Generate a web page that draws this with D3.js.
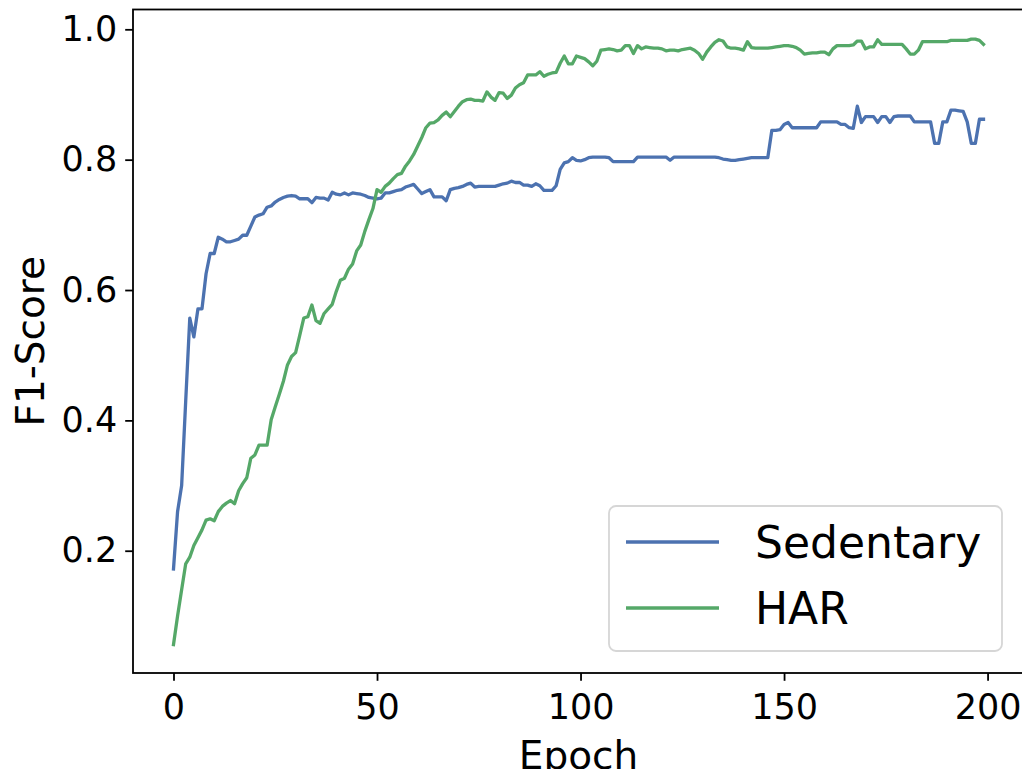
<!DOCTYPE html>
<html>
<head>
<meta charset="utf-8">
<script src="https://cdn.jsdelivr.net/npm/d3@7"></script>
<style>
  body { margin: 0; background: #fff; }
  text { font-family: "DejaVu Sans", sans-serif; fill: #000; }
</style>
</head>
<body>
<div class="chart"></div>
<script>
// epochs 0..199
var epochs = d3.range(0, 200);

var sedentary = [
  0.172, 0.26, 0.30, 0.43, 0.557, 0.528, 0.571, 0.571, 0.625, 0.656,
  0.656, 0.681, 0.678, 0.674, 0.674, 0.676, 0.678, 0.684, 0.684, 0.698,
  0.712, 0.715, 0.717, 0.727, 0.729, 0.735, 0.739, 0.742, 0.744, 0.745,
  0.744, 0.740, 0.740, 0.740, 0.734, 0.742, 0.741, 0.741, 0.738, 0.750,
  0.747, 0.746, 0.749, 0.746, 0.749, 0.748, 0.747, 0.745, 0.742, 0.741,
  0.740, 0.741, 0.749, 0.749, 0.751, 0.753, 0.754, 0.758, 0.760, 0.762,
  0.755, 0.748, 0.751, 0.754, 0.743, 0.743, 0.743, 0.737, 0.754, 0.756,
  0.757, 0.759, 0.762, 0.764, 0.758, 0.759, 0.759, 0.759, 0.759, 0.759,
  0.761, 0.763, 0.764, 0.767, 0.765, 0.765, 0.761, 0.761, 0.759, 0.763,
  0.760, 0.753, 0.753, 0.753, 0.760, 0.785, 0.795, 0.797, 0.803, 0.799,
  0.798, 0.800, 0.803, 0.804, 0.804, 0.804, 0.804, 0.803, 0.797, 0.797,
  0.797, 0.797, 0.797, 0.797, 0.804, 0.804, 0.804, 0.804, 0.804, 0.804,
  0.804, 0.804, 0.799, 0.804, 0.804, 0.804, 0.804, 0.804, 0.804, 0.804,
  0.804, 0.804, 0.804, 0.804, 0.803, 0.801, 0.800, 0.799, 0.799, 0.800,
  0.801, 0.802, 0.803, 0.803, 0.803, 0.803, 0.803, 0.845, 0.845, 0.846,
  0.854, 0.857, 0.849, 0.849, 0.849, 0.849, 0.849, 0.849, 0.849, 0.858,
  0.858, 0.858, 0.858, 0.858, 0.854, 0.854, 0.849, 0.848, 0.882, 0.857,
  0.866, 0.866, 0.866, 0.857, 0.866, 0.866, 0.857, 0.866, 0.867, 0.867,
  0.867, 0.867, 0.858, 0.858, 0.858, 0.858, 0.858, 0.825, 0.825, 0.858,
  0.858, 0.876, 0.876, 0.875, 0.874, 0.858, 0.825, 0.825, 0.862, 0.862
];

var har = [
  0.056, 0.100, 0.140, 0.180, 0.190, 0.208, 0.220, 0.232, 0.247, 0.249,
  0.246, 0.260, 0.268, 0.273, 0.277, 0.272, 0.292, 0.303, 0.312, 0.342,
  0.347, 0.362, 0.362, 0.362, 0.401, 0.421, 0.440, 0.460, 0.485, 0.498,
  0.504, 0.530, 0.557, 0.559, 0.577, 0.553, 0.549, 0.564, 0.571, 0.578,
  0.598, 0.615, 0.618, 0.632, 0.640, 0.660, 0.669, 0.690, 0.708, 0.725,
  0.754, 0.750, 0.759, 0.764, 0.771, 0.777, 0.779, 0.790, 0.798, 0.808,
  0.821, 0.834, 0.849, 0.856, 0.857, 0.861, 0.868, 0.873, 0.866, 0.874,
  0.882, 0.889, 0.892, 0.893, 0.891, 0.891, 0.890, 0.904, 0.896, 0.891,
  0.903, 0.902, 0.894, 0.899, 0.910, 0.915, 0.918, 0.930, 0.930, 0.930,
  0.935, 0.928, 0.931, 0.933, 0.934, 0.948, 0.959, 0.947, 0.947, 0.959,
  0.957, 0.955, 0.950, 0.944, 0.951, 0.968, 0.969, 0.970, 0.969, 0.967,
  0.968, 0.975, 0.975, 0.963, 0.975, 0.970, 0.973, 0.972, 0.971, 0.971,
  0.970, 0.967, 0.968, 0.968, 0.967, 0.969, 0.970, 0.971, 0.968, 0.963,
  0.954, 0.965, 0.973, 0.980, 0.984, 0.982, 0.973, 0.971, 0.971, 0.970,
  0.968, 0.981, 0.972, 0.971, 0.971, 0.971, 0.971, 0.972, 0.973, 0.974,
  0.975, 0.975, 0.974, 0.972, 0.968, 0.962, 0.963, 0.964, 0.964, 0.965,
  0.965, 0.961, 0.970, 0.975, 0.975, 0.975, 0.975, 0.976, 0.982, 0.982,
  0.970, 0.973, 0.973, 0.984, 0.977, 0.977, 0.977, 0.977, 0.977, 0.977,
  0.970, 0.962, 0.962, 0.968, 0.981, 0.981, 0.981, 0.981, 0.981, 0.981,
  0.981, 0.983, 0.983, 0.983, 0.983, 0.983, 0.985, 0.985, 0.983, 0.977
];

var seriesNames = ["Sedentary", "HAR"];
var seriesColors = ["#4C72B0", "#55A868"];
var xTicks = [0, 50, 100, 150, 200];
var yTicks = [0.2, 0.4, 0.6, 0.8, 1.0];

var svgWidth = 1022;
var svgHeight = 769;

var margin = { top: 9.5, right: -2, bottom: 96, left: 133 };
var width = svgWidth - margin.left - margin.right;
var height = svgHeight - margin.top - margin.bottom;

var svg = d3.select(".chart")
  .append("svg")
  .attr("width", svgWidth)
  .attr("height", svgHeight);

var chartGroup = svg.append("g")
  .attr("transform", `translate(${margin.left}, ${margin.top})`);

// scales, with matplotlib style 5% margins
var xScale = d3.scaleLinear()
  .domain([-9.95, 208.95])
  .range([0, width]);

var yScale = d3.scaleLinear()
  .domain([0.0124, 1.0304])
  .range([height, 0]);

var tickLen = 7.8;

var bottomAxis = d3.axisBottom(xScale)
  .tickValues(xTicks)
  .tickSize(tickLen)
  .tickPadding(13)
  .tickFormat(d3.format("d"));

var leftAxis = d3.axisLeft(yScale)
  .tickValues(yTicks)
  .tickSize(tickLen)
  .tickPadding(8)
  .tickFormat(d3.format(".1f"));

var xAxisG = chartGroup.append("g")
  .attr("transform", `translate(0, ${height})`)
  .call(bottomAxis);

var yAxisG = chartGroup.append("g")
  .call(leftAxis);

[xAxisG, yAxisG].forEach(function(g) {
  g.select(".domain").remove();
  g.selectAll(".tick line").attr("stroke", "#000").attr("stroke-width", 1.8);
  g.selectAll(".tick text").style("font-size", "35px").attr("fill", "#000");
});

// lines
var lineGen = d3.line()
  .x((d, i) => xScale(epochs[i]))
  .y(d => yScale(d));

[sedentary, har].forEach(function(values, i) {
  chartGroup.append("path")
    .datum(values)
    .attr("fill", "none")
    .attr("stroke", seriesColors[i])
    .attr("stroke-width", 3.3)
    .attr("stroke-linejoin", "round")
    .attr("stroke-linecap", "square")
    .attr("d", lineGen);
});

// frame
chartGroup.append("rect")
  .attr("width", width)
  .attr("height", height)
  .attr("fill", "none")
  .attr("stroke", "#000")
  .attr("stroke-width", 1.8);

// axis labels
chartGroup.append("text")
  .attr("transform", "rotate(-90)")
  .attr("x", -height / 2)
  .attr("y", -89)
  .attr("text-anchor", "middle")
  .style("font-size", "39px")
  .text("F1-Score");

chartGroup.append("text")
  .attr("x", width / 2)
  .attr("y", height + 96)
  .attr("text-anchor", "middle")
  .style("font-size", "39px")
  .text("Epoch");

// legend
var legend = svg.append("g")
  .attr("transform", "translate(609, 506)");

legend.append("rect")
  .attr("width", 393)
  .attr("height", 145)
  .attr("rx", 7)
  .attr("fill", "#fff")
  .attr("fill-opacity", 0.8)
  .attr("stroke", "#d6d6d6")
  .attr("stroke-width", 1.8);

seriesNames.forEach(function(name, i) {
  var y = 36 + i * 66;
  legend.append("line")
    .attr("x1", 17)
    .attr("x2", 110)
    .attr("y1", y)
    .attr("y2", y)
    .attr("stroke", seriesColors[i])
    .attr("stroke-width", 3.3);
  legend.append("text")
    .attr("x", 146)
    .attr("y", y)
    .attr("dy", "0.36em")
    .style("font-size", "44px")
    .text(name);
});
</script>
</body>
</html>
